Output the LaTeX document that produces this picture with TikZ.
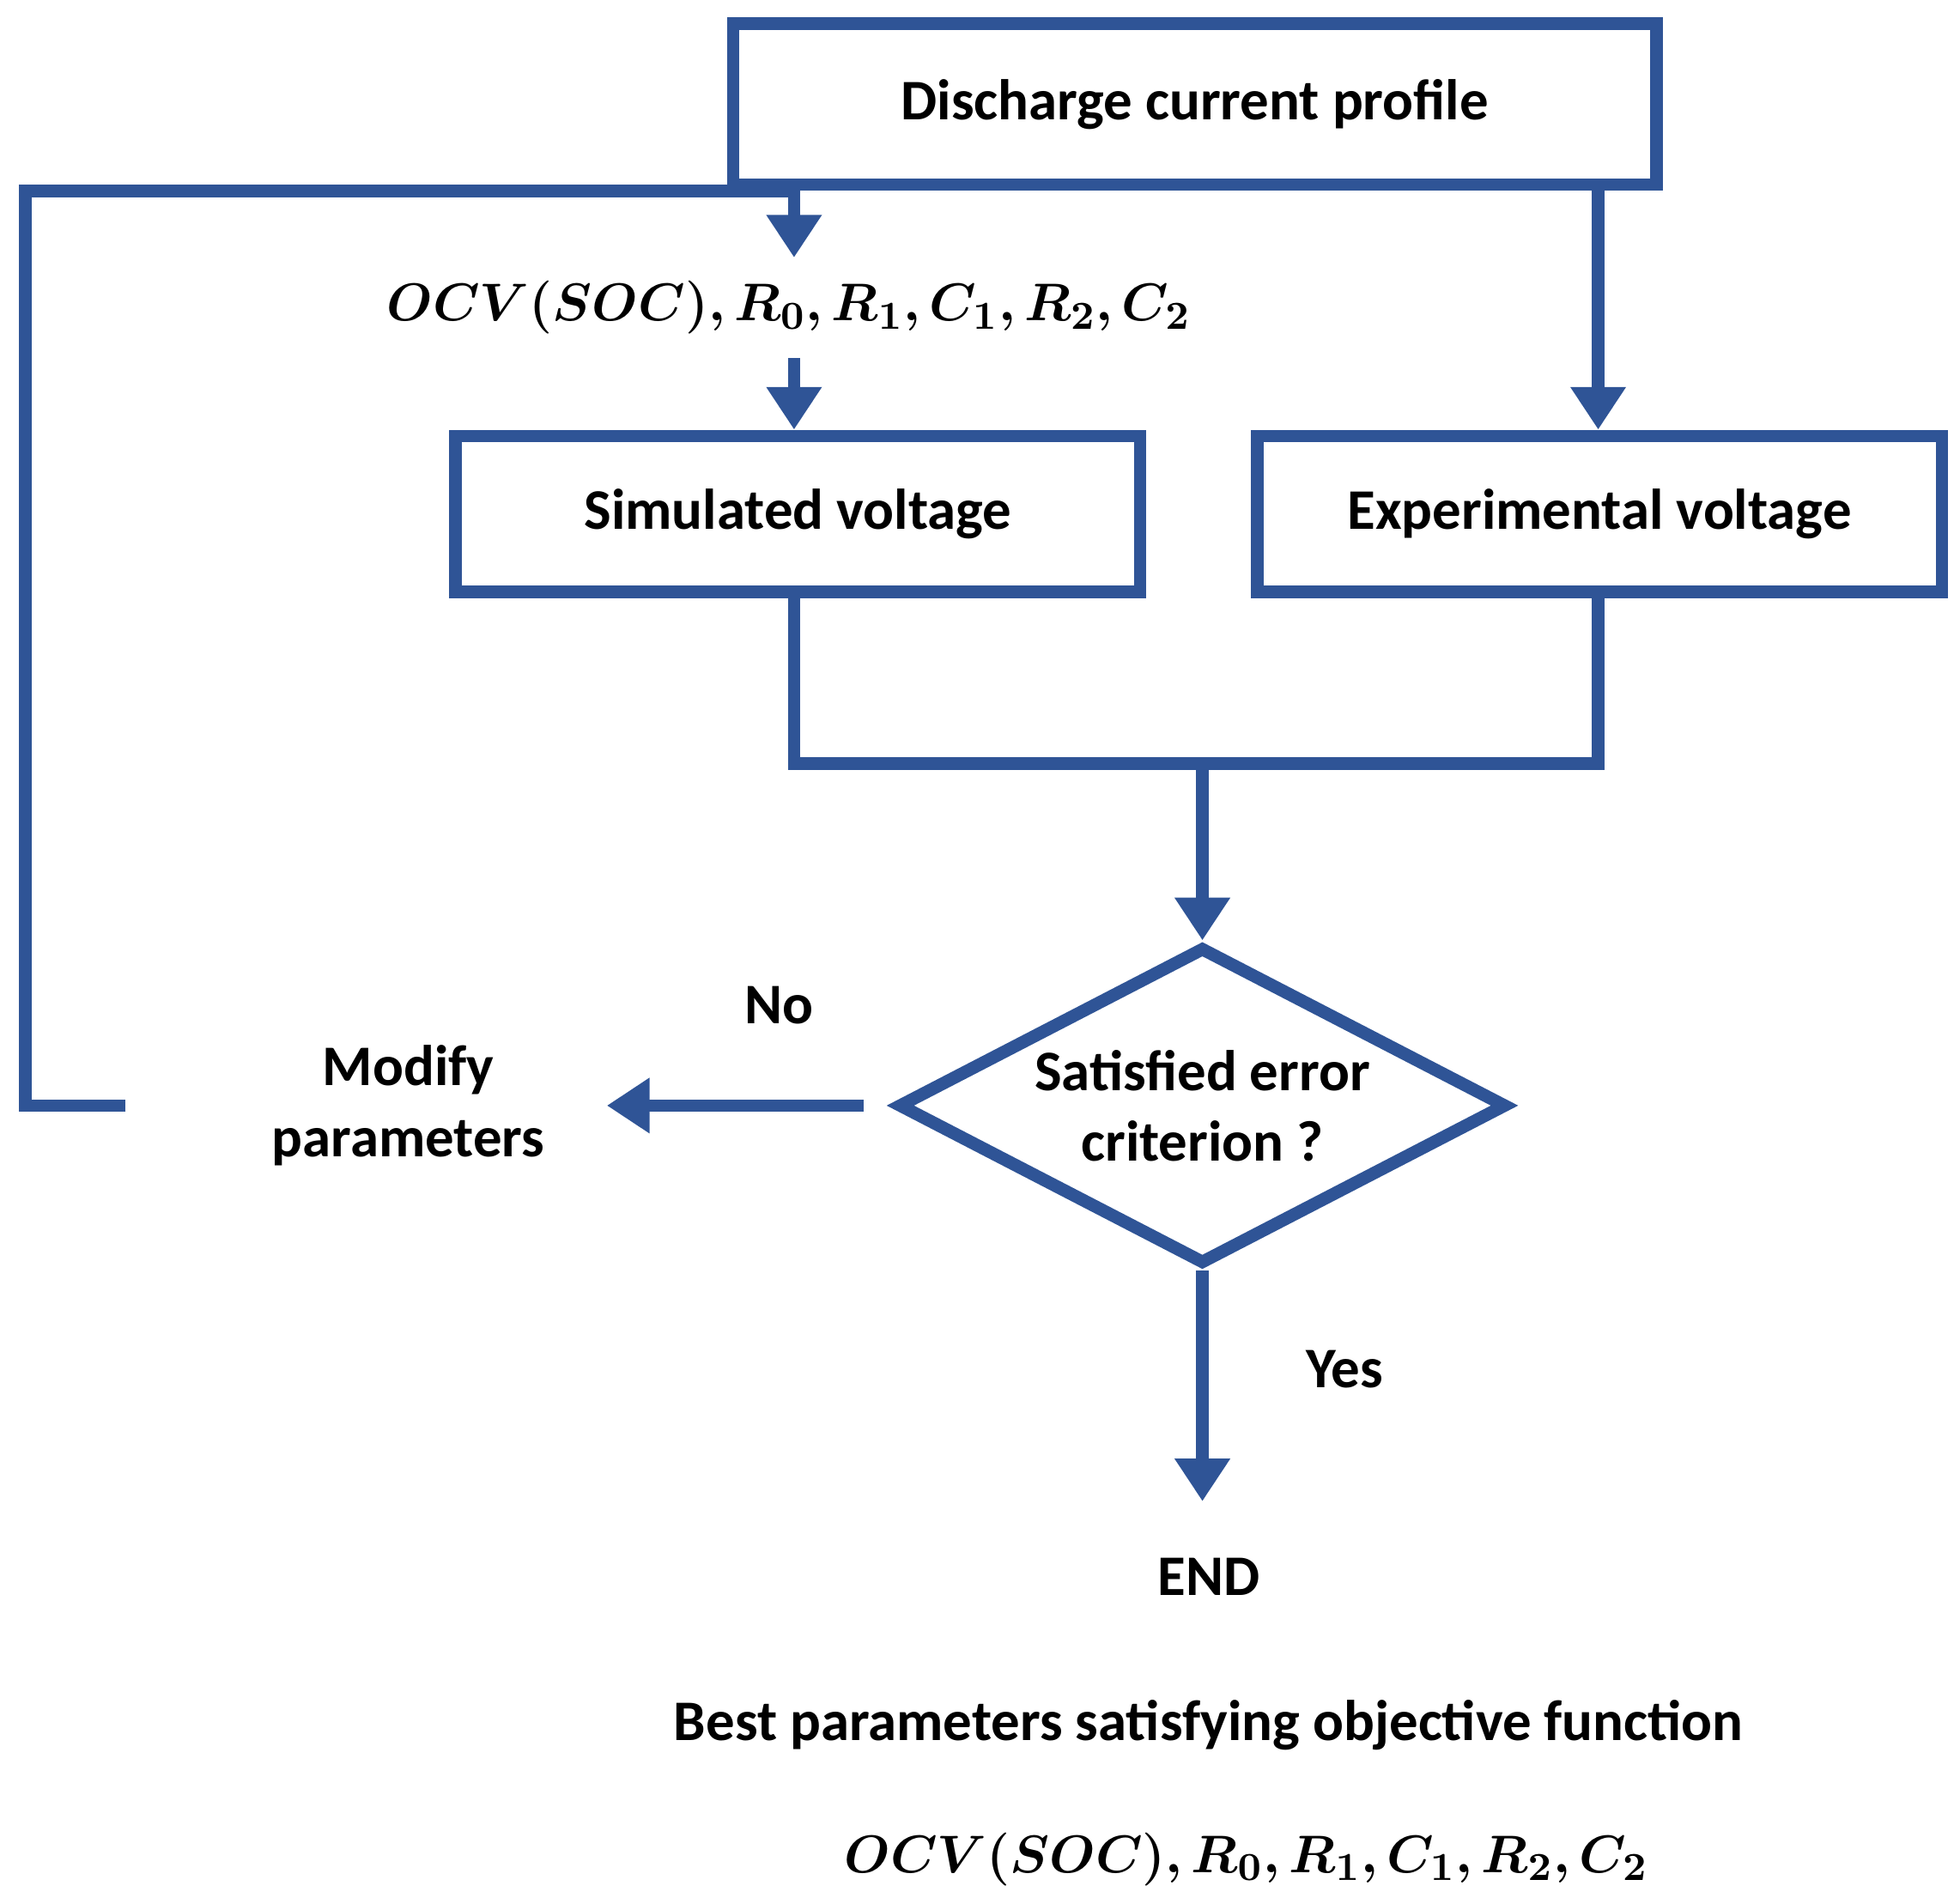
\documentclass[tikz,border=0pt]{standalone}
\usepackage{fontspec}
\setmainfont{Carlito}
\usepackage{amsmath}
\usepackage{bm}
\usepackage{tikz}
\usetikzlibrary{arrows.meta,shapes.geometric}
\definecolor{flowblue}{RGB}{47,84,150}

\tikzset{
  box/.style={rectangle, draw=flowblue, line width=0.1cm, inner sep=0pt},
  line/.style={draw=flowblue, line width=0.1cm},
  arr/.style={line, -{Triangle[width=0.42cm,length=0.34cm]}},
  lbl/.style={font=\fontsize{13}{16}\selectfont\bfseries, align=center}
}

\begin{document}
\begin{tikzpicture}
      \useasboundingbox (0,0) rectangle (15.6,-15.15);

      \node[box, minimum width=7.35cm, minimum height=1.28cm, lbl] (profile) at (9.51, -0.83) {Discharge current profile};
      \node[lbl] (params) at (6.28, -2.45) {$\bm{OCV(SOC), R_0, R_1, C_1, R_2, C_2}$};
      \node[box, minimum width=5.45cm, minimum height=1.24cm, lbl] (sim) at (6.35, -4.09) {Simulated voltage};
      \node[box, minimum width=5.45cm, minimum height=1.24cm, lbl] (exp) at (12.73, -4.09) {Experimental voltage};
      \node[diamond, draw=flowblue, line width=0.1cm, minimum width=4.85cm, minimum height=2.53cm, aspect=1.9, inner sep=0pt, lbl] (check) at (9.57, -8.80) {Satisfied error\\criterion ?};
      \node[lbl] (modify) at (3.25, -8.80) {Modify\\parameters};
      \node[lbl] (no) at (6.20, -8.00) {No};
      \node[lbl] (yes) at (10.70, -10.90) {Yes};
      \node[lbl] (end) at (9.62, -12.55) {END};
      \node[lbl] (best) at (9.62, -13.73) {Best parameters satisfying objective function};
      \node[lbl] (final) at (9.92, -14.80) {$\bm{OCV(SOC), R_0, R_1, C_1, R_2, C_2}$};

      \coordinate (loopstart) at (1.00, -8.80);
      \coordinate (loopcorner) at (0.20, -1.52);
      \coordinate (join) at (9.57, -6.08);

      \draw[line] (loopstart) -- (0.20, -8.80) -- (loopcorner) -- (6.32, -1.52);
      \draw[arr] (6.32, -1.52) -- (6.32, -2.05);
      \draw[arr] (6.32, -2.85) -- (sim.north -| 6.32, 0);
      \draw[arr] (profile.south -| 12.72, 0) -- (exp.north -| 12.72, 0);
      \draw[line] (sim.south -| 6.32, 0) |- (join) -| (exp.south -| 12.72, 0);
      \draw[arr] (join) -- (check.north);
      \draw[arr] (check.west) ++(-0.22, 0) -- (4.83, -8.80);
      \draw[arr] (check.south) -- (9.57, -11.95);
\end{tikzpicture}
\end{document}
